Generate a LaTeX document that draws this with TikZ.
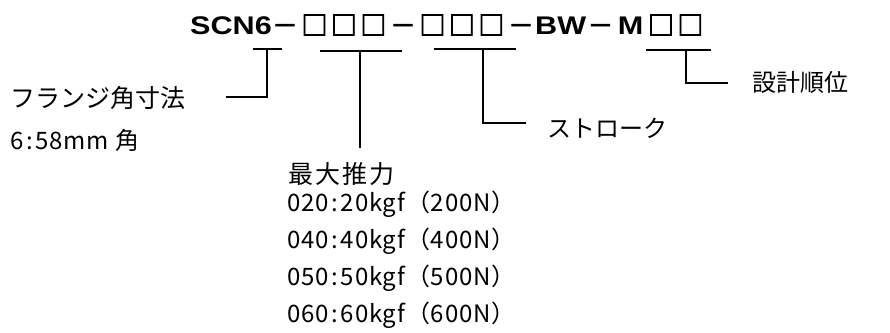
\documentclass[tikz,border=0pt]{standalone}
\usepackage{fontspec}
\setmainfont{Noto Sans CJK JP}
\newfontfamily\latb{Liberation Sans}[FakeStretch=1.2]
\newfontfamily\cjkb{Noto Sans CJK JP}[FakeBold=3]
\newfontfamily\cjkr{Noto Sans CJK JP}[FakeBold=2]
\newfontfamily\valfont{Noto Sans CJK JP}[LetterSpace=3.5]
\newfontfamily\lblfont{Noto Sans CJK JP}[LetterSpace=8]
\newcommand\tslot[1]{\makebox[29.5pt][c]{#1}}
\newcommand\colonbox{\makebox[0.5em][c]{:}}
\begin{document}
\begin{tikzpicture}[x=1pt,y=-1pt,
  conn/.style={line width=1.7pt, line cap=rect},
  lbl/.style={anchor=west, inner sep=0pt, font=\fontsize{24}{24}\selectfont},
  val/.style={anchor=west, inner sep=0pt, font=\valfont\fontsize{24}{24}\selectfont}]
\useasboundingbox (0,0) rectangle (890,332);
\node[anchor=west, inner sep=0pt] (title) at (190,25)
  {\fontsize{25.5}{25.5}\selectfont
   \makebox[80pt][l]{\latb\bfseries SCN6}%
   {\fontsize{26}{26}\selectfont\cjkr\tslot{－}\cjkb\tslot{□}\tslot{□}\tslot{□}\cjkr\tslot{－}\cjkb\tslot{□}\tslot{□}\tslot{□}\cjkr\tslot{－}}%
   \makebox[50pt][c]{\latb\bfseries BW}%
   {\fontsize{26}{26}\selectfont\cjkr\tslot{－}}%
   \makebox[31pt][c]{\latb\bfseries M}%
   {\fontsize{26}{26}\selectfont\cjkb\tslot{□}\tslot{□}}};
% labels
\node[lbl, font=\fontsize{25}{25}\selectfont] (flange) at (10,98) {フランジ角寸法};
\node[val] (flangev) at (10,140) {6\colonbox 58mm 角};
\node[lbl, font=\lblfont\fontsize{25}{25}\selectfont] (thrust) at (288,174) {最大推力};
\node[val] (t1) at (287,204) {020\colonbox 20kgf（200N）};
\node[val] (t2) at (287,241) {040\colonbox 40kgf（400N）};
\node[val] (t3) at (287,278) {050\colonbox 50kgf（500N）};
\node[val] (t4) at (287,315) {060\colonbox 60kgf（600N）};
\node[lbl] (stroke) at (547,128) {ストローク};
\node[lbl] (design) at (752,82) {設計順位};
% bracket coordinates
\coordinate (a1) at (254,49); \coordinate (a2) at (281,49);
\coordinate (a3) at (267,49); \coordinate (a4) at (267,97); \coordinate (a5) at (227,97);
\coordinate (b1) at (321,51); \coordinate (b2) at (401,51);
\coordinate (b3) at (360,51); \coordinate (b4) at (360,147);
\coordinate (c1) at (435,49); \coordinate (c2) at (515,49);
\coordinate (c3) at (483,49); \coordinate (c4) at (483,123); \coordinate (c5) at (525,123);
\coordinate (d1) at (647,50); \coordinate (d2) at (710,50);
\coordinate (d3) at (686,50); \coordinate (d4) at (686,83); \coordinate (d5) at (727,83);
\draw[conn] (a1) -- (a2);
\draw[conn] (a3) -- (a4) -- (a5);
\draw[conn] (b1) -- (b2);
\draw[conn] (b3) -- (b4);
\draw[conn] (c1) -- (c2);
\draw[conn] (c3) -- (c4) -- (c5);
\draw[conn] (d1) -- (d2);
\draw[conn] (d3) -- (d4) -- (d5);
\end{tikzpicture}
\end{document}
